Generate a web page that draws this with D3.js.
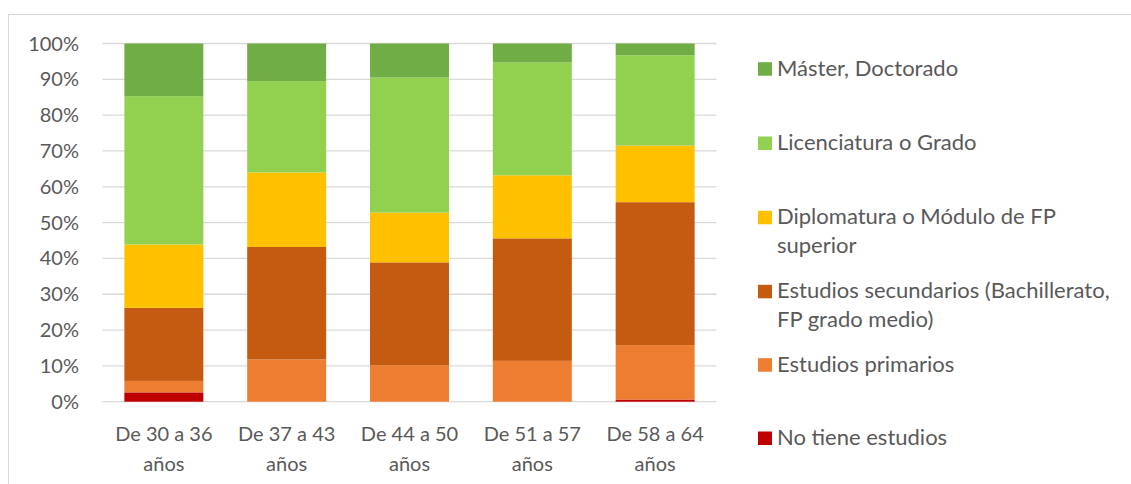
<!DOCTYPE html>
<html><head><meta charset="utf-8">
<script src="https://cdn.jsdelivr.net/npm/d3@7/dist/d3.min.js"></script>
<style>body{margin:0;background:#fff;} text{font-family:Lato,"Open Sans",sans-serif;fill:#595959;}</style>
</head><body><svg id="c" width="1131" height="484"></svg>
<script>
const categories = [["De 30 a 36","años"],["De 37 a 43","años"],["De 44 a 50","años"],["De 51 a 57","años"],["De 58 a 64","años"]];
const seriesNames = ["No tiene estudios","Estudios primarios","Estudios secundarios (Bachillerato, FP grado medio)","Diplomatura o Módulo de FP superior","Licenciatura o Grado","Máster, Doctorado"];
const noEstudios   = [2.6, 0, 0, 0, 0.6];
const primarios    = [3.2, 11.8, 10.2, 11.4, 15.2];
const secundarios  = [20.4, 31.4, 28.7, 34.2, 39.9];
const diplomatura  = [17.7, 20.8, 13.9, 17.6, 15.8];
const licenciatura = [41.4, 25.5, 37.7, 31.5, 25.2];
const master       = [14.7, 10.5, 9.5, 5.3, 3.3];
const yTicks = [0,10,20,30,40,50,60,70,80,90,100];
const colors = ["#C00000","#ED7D31","#C55A11","#FFC000","#92D050","#70AD47"];
const legendLines = [["Máster, Doctorado"],["Licenciatura o Grado"],["Diplomatura o Módulo de FP","superior"],["Estudios secundarios (Bachillerato,","FP grado medio)"],["Estudios primarios"],["No tiene estudios"]];

const svg = d3.select("#c");
svg.append("rect").attr("x",8.5).attr("y",14.5).attr("width",1200).attr("height",600)
  .attr("fill","none").attr("stroke","#d9d9d9").attr("stroke-width",1);

const x0 = 102.5, x1 = 716.5;
const x = d3.scaleBand().domain(d3.range(categories.length)).range([x0,x1]).paddingInner(0.357).paddingOuter(0.178);
const y = d3.scaleLinear().domain([0,100]).range([401.7,43.5]);

const g = svg.append("g");
g.selectAll("line.grid").data(yTicks).join("line")
  .attr("x1",x0).attr("x2",x1).attr("y1",d=>y(d)).attr("y2",d=>y(d))
  .attr("stroke","#d9d9d9").attr("stroke-width",1.3);
g.selectAll("text.yt").data(yTicks).join("text")
  .attr("x",79).attr("y",d=>y(d)+7).attr("text-anchor","end")
  .attr("font-size",20).text(d=>d+"%");

const seriesVals = [noEstudios,primarios,secundarios,diplomatura,licenciatura,master];
const rows = categories.map((c,i)=>{const o={i}; seriesVals.forEach((s,k)=>o["s"+k]=s[i]); return o;});
const stack = d3.stack().keys(seriesVals.map((s,k)=>"s"+k))(rows);
stack.forEach((layer,k)=>{
  g.selectAll("rect.s"+k).data(layer).join("rect")
   .attr("x",d=>x(d.data.i)).attr("width",x.bandwidth())
   .attr("y",d=>y(d[1])).attr("height",d=>Math.max(0,y(d[0])-y(d[1])))
   .attr("fill",colors[k]);
});

categories.forEach((c,i)=>{
  const t = g.append("text").attr("text-anchor","middle").attr("font-size",20);
  c.forEach((line,j)=>t.append("tspan").attr("x",x(i)+x.bandwidth()/2).attr("y",441+j*30).text(line));
});

// legend (top to bottom: reverse of stacking)
const legBase = [75.7,150,224.3,298.3,371.7,445];
legendLines.forEach((lines,k)=>{
  const ci = colors.length-1-k;
  svg.append("rect").attr("x",758).attr("y",legBase[k]-13.5).attr("width",14).attr("height",13.5).attr("fill",colors[ci]);
  const t = svg.append("text").attr("font-size",22);
  lines.forEach((line,j)=>t.append("tspan").attr("x",777).attr("y",legBase[k]+j*28.4).text(line));
});
</script></body></html>
